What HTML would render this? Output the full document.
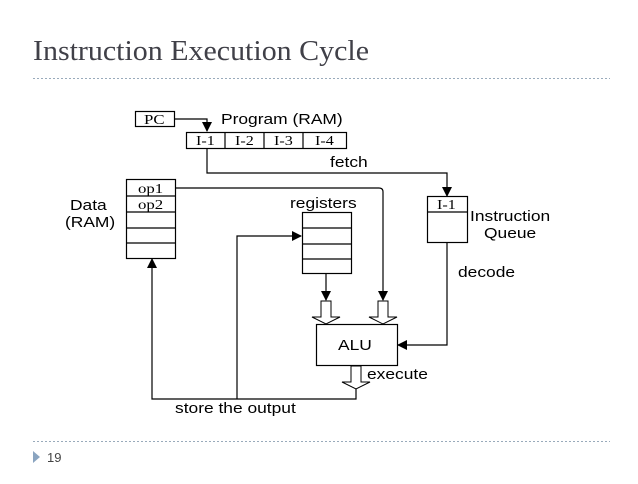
<!DOCTYPE html>
<html><head><meta charset="utf-8"><style>
body{margin:0;background:#fff;width:638px;height:479px;overflow:hidden}
</style></head><body>
<svg width="638" height="479" xmlns="http://www.w3.org/2000/svg">
<defs>
<marker id="a" markerWidth="10" markerHeight="10" refX="9" refY="5" orient="auto" markerUnits="userSpaceOnUse"><path d="M0,0 L10,5 L0,10 Z" fill="#000"/></marker>
</defs>
<text transform="translate(33,60) scale(1.07,1)" font-family="Liberation Serif, serif" font-size="28" fill="#404048">Instruction Execution Cycle</text>
<line x1="33" y1="78.5" x2="610" y2="78.5" stroke="#9ab" stroke-dasharray="2,2"/>
<line x1="33" y1="441.5" x2="610" y2="441.5" stroke="#9ab" stroke-dasharray="2,2"/>
<path d="M33,451 L40,457 L33,463 Z" fill="#8aa4c0"/>
<text x="47" y="462" font-family="Liberation Sans, sans-serif" font-size="13" fill="#444">19</text>
<g fill="none" stroke="#000" stroke-width="1.2">
<rect x="135.5" y="111.5" width="39" height="15"/>
<rect x="186.5" y="132.5" width="160" height="16"/>
<line x1="225" y1="132" x2="225" y2="149"/><line x1="264" y1="132" x2="264" y2="149"/><line x1="303" y1="132" x2="303" y2="149"/>
<path d="M175,119 H207 V131" marker-end="url(#a)"/>
<path d="M207,149 V173 H447 V196" marker-end="url(#a)"/>
<rect x="126.5" y="179.5" width="49" height="79"/>
<line x1="126" y1="196" x2="176" y2="196"/><line x1="126" y1="212" x2="176" y2="212"/><line x1="126" y1="228" x2="176" y2="228"/><line x1="126" y1="243" x2="176" y2="243"/>
<path d="M176,188 H379 Q383,188 383,192 V300" marker-end="url(#a)"/>
<rect x="302.5" y="212.5" width="49" height="61"/>
<line x1="302" y1="228" x2="352" y2="228"/><line x1="302" y1="244" x2="352" y2="244"/><line x1="302" y1="259" x2="352" y2="259"/>
<path d="M326,274 V300" marker-end="url(#a)"/>
<rect x="427.5" y="196.5" width="40" height="46"/>
<line x1="427" y1="212" x2="468" y2="212"/>
<path d="M447,243 V345 H398" marker-end="url(#a)"/>
<rect x="316.5" y="324.5" width="81" height="41"/>
<path d="M321,301 H331 V317 H340 L326,324 L312,317 H321 Z" stroke-width="1"/>
<path d="M378,301 H388 V317 H397 L383,324 L369,317 H378 Z" stroke-width="1"/>
<path d="M351,366 H361 V382 H370 L356,389 L342,382 H351 Z" stroke-width="1"/>
<path d="M356,389 V399 H152 V259" marker-end="url(#a)"/>
<path d="M237,399 V236 H301" marker-end="url(#a)"/>
</g>
<g font-family="Liberation Serif, serif" font-size="14">
<text transform="translate(144,124) scale(1.2,1)">PC</text>
<text transform="translate(196,145) scale(1.15,1)">I-1</text><text transform="translate(235,145) scale(1.15,1)">I-2</text><text transform="translate(274,145) scale(1.15,1)">I-3</text><text transform="translate(315,145) scale(1.15,1)">I-4</text>
<text transform="translate(138,193) scale(1.2,1)">op1</text><text transform="translate(138,209) scale(1.2,1)">op2</text>
<text transform="translate(437,209) scale(1.15,1)">I-1</text>
</g>
<g font-family="Liberation Sans, sans-serif" font-size="14.5">
<text transform="translate(221,124) scale(1.2,1)">Program (RAM)</text>
<text transform="translate(330,167) scale(1.2,1)">fetch</text>
<text transform="translate(70,210) scale(1.2,1)">Data</text>
<text transform="translate(65,227) scale(1.2,1)">(RAM)</text>
<text transform="translate(290,208) scale(1.2,1)">registers</text>
<text transform="translate(470,221) scale(1.2,1)">Instruction</text>
<text transform="translate(484,238) scale(1.2,1)">Queue</text>
<text transform="translate(458,277) scale(1.2,1)">decode</text>
<text transform="translate(338,350) scale(1.2,1)">ALU</text>
<text transform="translate(367,379) scale(1.2,1)">execute</text>
<text transform="translate(175,413) scale(1.2,1)">store the output</text>
</g>
</svg>
</body></html>
